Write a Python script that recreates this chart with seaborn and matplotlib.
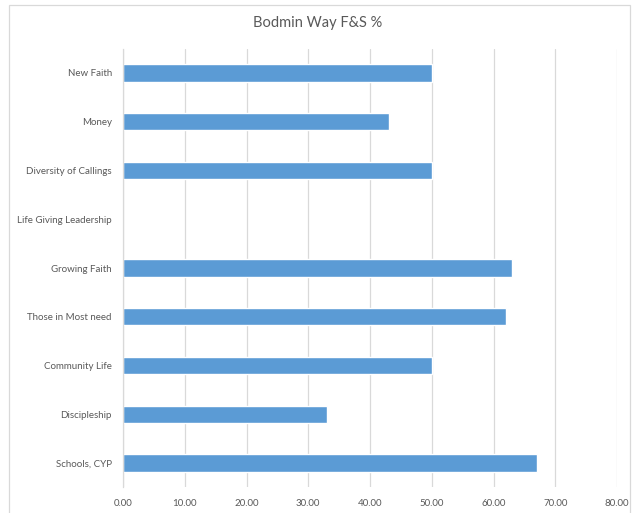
import matplotlib
matplotlib.use("Agg")
import matplotlib.pyplot as plt
import seaborn as sns
import pandas as pd
from matplotlib.patches import Rectangle
from matplotlib.ticker import FormatStrFormatter

categories = ["New Faith", "Money", "Diversity of Callings", "Life Giving Leadership",
              "Growing Faith", "Those in Most need", "Community Life", "Discipleship",
              "Schools, CYP"]
values = [50, 43, 50, 0, 63, 62, 50, 33, 67]
title = "Bodmin Way F&S %"

df = pd.DataFrame({"category": categories, "value": values})

sns.set_theme(style="white")
plt.rcParams["font.family"] = ["Lato", "DejaVu Sans"]

fig = plt.figure(figsize=(6.37, 5.13), dpi=100)
ax = fig.add_axes([123/637, 1 - 487.4/513, (617-123)/637, (487.4-48.6)/513])

sns.barplot(data=df, x="value", y="category", orient="h", color="#5B9BD5",
            saturation=1, width=0.35, ax=ax, order=categories)

ax.set_xlim(0, 80)
ax.set_xticks(range(0, 81, 10))
ax.xaxis.set_major_formatter(FormatStrFormatter("%.2f"))
ax.grid(axis="x", color="#D9D9D9", linewidth=0.9)
ax.set_axisbelow(True)
ax.set_xlabel("")
ax.set_ylabel("")
for s in ["top", "right", "bottom"]:
    ax.spines[s].set_visible(False)
ax.spines["left"].set_color("#D9D9D9")
ax.spines["left"].set_linewidth(0.9)
ax.tick_params(axis="x", length=0, pad=8, labelsize=7, labelcolor="#595959")
ax.tick_params(axis="y", length=0, pad=8, labelsize=7, labelcolor="#595959")

fig.text(318/637, 1 - 23/513, title, ha="center", va="center", fontsize=10.5, color="#595959")

fig.patches.append(Rectangle((9/637, -0.05), (630-9)/637, 1 - 5/513 + 0.05,
                             transform=fig.transFigure, fill=False,
                             edgecolor="#D9D9D9", linewidth=0.9))

fig.savefig("out.png", dpi=100)
